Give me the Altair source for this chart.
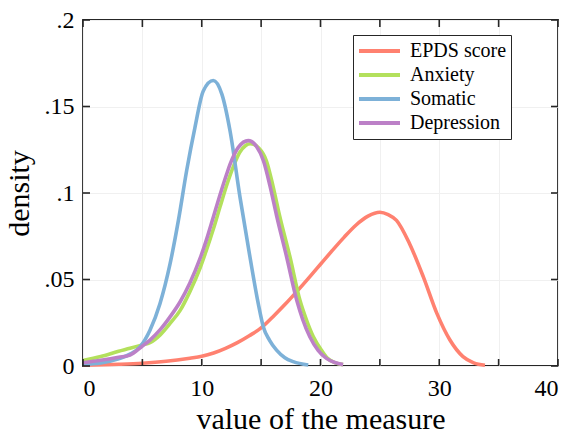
import altair as alt
import pandas as pd

# ---- data ----
series_names = ["EPDS score", "Anxiety", "Somatic", "Depression"]
series_colors = ["#FF8170", "#B3E05C", "#7DB1D8", "#BC80C7"]

epds_x = [0, 3, 5, 7, 9, 10, 11, 12, 13, 14, 15, 16, 17, 18, 19, 20, 21, 22, 23, 24, 25, 25.7, 26.4, 27.5, 28.66, 29.8, 30.9, 32.0, 32.9, 33.85]
epds_y = [0.0005, 0.001, 0.0016, 0.0027, 0.0045, 0.0056, 0.0075, 0.0102, 0.0135, 0.0175, 0.022, 0.0285, 0.0355, 0.043, 0.0508, 0.0588, 0.0668, 0.0745, 0.0815, 0.0866, 0.0889, 0.0875, 0.0842, 0.0707, 0.0515, 0.0304, 0.015, 0.0054, 0.0018, 0.0004]

anx_x = [0, 1.5, 3.0, 3.96, 5.0, 5.64, 6.5, 7.33, 8.17, 9.0, 9.85, 10.42, 10.97, 11.54, 12.1, 12.7, 13.2, 13.7, 14.1, 14.8, 15.45, 16.0, 16.55, 17.43, 18.27, 18.8, 19.4, 20.1, 20.6, 21.2, 21.9]
anx_y = [0.0032, 0.0055, 0.0085, 0.0102, 0.0122, 0.0135, 0.018, 0.0246, 0.032, 0.043, 0.0565, 0.0675, 0.079, 0.092, 0.1045, 0.116, 0.1235, 0.1275, 0.1285, 0.126, 0.1185, 0.104, 0.087, 0.063, 0.038, 0.027, 0.0169, 0.009, 0.0044, 0.002, 0.0008]

som_x = [0, 1.5, 3.0, 4.0, 4.8, 5.64, 6.48, 7.33, 8.03, 8.73, 9.43, 10.13, 10.97, 11.7, 12.38, 13.22, 14.06, 14.76, 15.18, 15.7, 16.3, 17.0, 17.7, 18.97]
som_y = [0.001, 0.0018, 0.0042, 0.0070, 0.0111, 0.0207, 0.036, 0.059, 0.084, 0.113, 0.138, 0.159, 0.165, 0.157, 0.136, 0.0976, 0.063, 0.036, 0.0227, 0.015, 0.0092, 0.0048, 0.0025, 0.0006]

dep_x = [0, 1.5, 3.0, 3.96, 5.0, 5.64, 6.5, 7.33, 8.17, 9.0, 9.85, 10.42, 10.97, 11.54, 12.1, 12.38, 13.08, 13.92, 14.6, 15.2, 15.75, 16.3, 17.15, 18.0, 18.5, 19.1, 19.8, 20.5, 21.2, 21.9]
dep_y = [0.0019, 0.0033, 0.0050, 0.0063, 0.0115, 0.015, 0.021, 0.0284, 0.037, 0.048, 0.062, 0.0735, 0.086, 0.099, 0.111, 0.1165, 0.1264, 0.1303, 0.127, 0.1185, 0.104, 0.087, 0.063, 0.038, 0.027, 0.0169, 0.009, 0.0044, 0.002, 0.0008]

x_ticks = [0, 5, 10, 15, 20, 25, 30, 35, 40]
y_ticks = [0, 0.05, 0.1, 0.15, 0.2]

W, H = 475, 346
FONT = "Liberation Serif"
TICK_LEN = 7

frames = []
for name, xs, ys in [("EPDS score", epds_x, epds_y), ("Anxiety", anx_x, anx_y),
                     ("Somatic", som_x, som_y), ("Depression", dep_x, dep_y)]:
    frames.append(pd.DataFrame({"x": xs, "y": ys, "series": name}))

xscale = alt.Scale(domain=[0, 40], nice=False, zero=False)
yscale = alt.Scale(domain=[0, 0.2], nice=False, zero=False)
cscale = alt.Scale(domain=series_names, range=series_colors)

x_axis = alt.Axis(values=x_ticks, title="value of the measure",
                  labelExpr="datum.value % 10 == 0 ? datum.label : ''",
                  tickSize=0, domain=False, labelPadding=10, titlePadding=4)
y_axis = alt.Axis(values=y_ticks, title="density",
                  labelExpr="datum.value == 0 ? '0' : slice(format(datum.value, '.2~f'), 1)",
                  tickSize=0, domain=False, labelPadding=9, titlePadding=10)

legend = alt.Legend(title=None, orient="none", legendX=270, legendY=15,
                    symbolType="stroke", symbolSize=1681, symbolStrokeWidth=4,
                    labelFont=FONT, labelFontSize=20, labelColor="#000000",
                    strokeColor="#262626", fillColor="white", padding=4,
                    labelOffset=8, clipHeight=24, rowPadding=0, cornerRadius=0)

layers = []
for i, df in enumerate(frames):
    enc = dict(
        x=alt.X("x:Q", scale=xscale, axis=x_axis),
        y=alt.Y("y:Q", scale=yscale, axis=y_axis),
        color=alt.Color("series:N", scale=cscale, legend=legend),
    )
    layers.append(alt.Chart(df).mark_line(strokeWidth=3.6, interpolate="monotone").encode(**enc))

xt = pd.DataFrame({"t": x_ticks})
yt = pd.DataFrame({"t": y_ticks})
tick_style = dict(color="#262626", thickness=1.6, size=TICK_LEN, opacity=1)
ticks = [
    alt.Chart(xt).mark_tick(orient="vertical", **tick_style).encode(
        x=alt.X("t:Q", scale=xscale, axis=x_axis), y=alt.value(H - TICK_LEN / 2)),
    alt.Chart(xt).mark_tick(orient="vertical", **tick_style).encode(
        x=alt.X("t:Q", scale=xscale, axis=x_axis), y=alt.value(TICK_LEN / 2)),
    alt.Chart(yt).mark_tick(orient="horizontal", **tick_style).encode(
        y=alt.Y("t:Q", scale=yscale, axis=y_axis), x=alt.value(TICK_LEN / 2)),
    alt.Chart(yt).mark_tick(orient="horizontal", **tick_style).encode(
        y=alt.Y("t:Q", scale=yscale, axis=y_axis), x=alt.value(W - TICK_LEN / 2)),
]

chart = alt.layer(*layers, *ticks).properties(
    width=W, height=H,
    autosize=alt.AutoSizeParams(type="none"),
    padding={"left": 83, "top": 20, "right": 13, "bottom": 67},
    background="white",
).configure_view(
    stroke="#262626", strokeWidth=1.8
).configure_axis(
    labelFont=FONT, titleFont=FONT, labelFontSize=24, titleFontSize=30,
    labelColor="#000000", titleColor="#000000", titleFontWeight="normal",
    gridColor="#f0f0f0", gridWidth=1,
)

chart.save("out.html", embed_options={"renderer": "svg", "actions": False})
